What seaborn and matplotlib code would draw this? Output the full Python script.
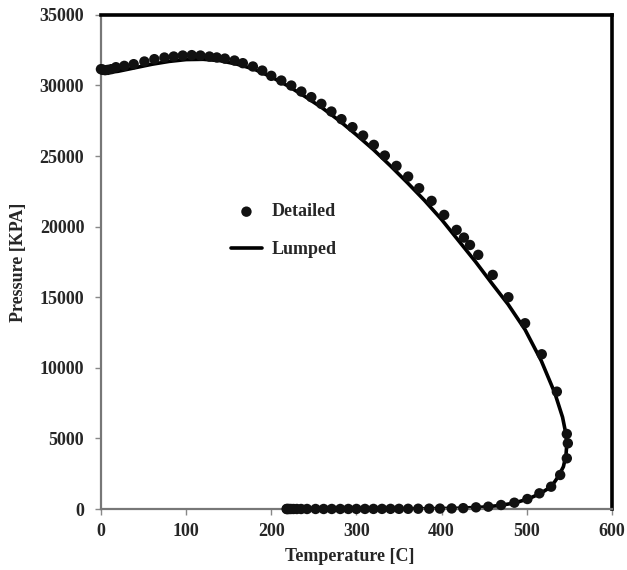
import matplotlib
matplotlib.use('Agg')
import matplotlib.pyplot as plt
import seaborn as sns
import pandas as pd

# Detailed model (dots)
detailed_T = [0, 1.5, 3, 5, 8, 12, 17.6, 27.4, 38.4, 51, 62.7, 74.5, 85.4, 96, 106.6,
              116.8, 127.4, 136, 145.5, 156.8, 166.6, 178.4, 189.4, 200, 211.8, 223.5,
              235.3, 247, 258.8, 270.6, 282.4, 295.3, 307.8, 320.4, 333.3, 347, 360.7,
              373.6, 388.2, 403, 417.6, 426.2, 433.3, 443, 460, 478.4, 498, 517.6, 535.3,
              547, 548.2, 547, 539.2, 528.6, 514.8, 500.7, 485.4, 469.8, 454.8, 440.4,
              425.4, 411.8, 398, 385.4, 372.5, 360.7, 350, 340, 330, 320, 310, 300,
              290.5, 281, 271, 261.5, 252, 242, 235, 230, 226, 223, 221, 219.5, 218.5, 218]
detailed_P = [31150, 31120, 31100, 31080, 31100, 31150, 31290, 31385, 31505, 31693, 31860,
              31975, 32047, 32117, 32145, 32117, 32047, 31980, 31900, 31763, 31575, 31340,
              31050, 30678, 30345, 29990, 29566, 29170, 28694, 28150, 27610, 27043, 26450,
              25790, 25032, 24300, 23545, 22720, 21822, 20830, 19767, 19222, 18700, 18000,
              16580, 15000, 13157, 10960, 8311, 5314, 4653, 3590, 2409, 1580, 1110, 708,
              446, 283, 165, 118, 60, 40, 30, 25, 20, 15, 12, 10, 8, 7, 6, 5, 4, 3, 3, 2,
              2, 2, 1, 1, 1, 1, 1, 1, 0, 0]

# Lumped model (line)
lumped_T = [0, 20, 40, 60, 80, 100, 120, 140, 160, 180, 200, 220, 240, 260, 280, 300, 320,
            340, 360, 380, 400, 420, 440, 460, 478, 498, 517, 533, 542, 546, 547, 546, 543,
            537, 529, 516, 501, 485, 468, 450, 420, 380, 330, 280, 218]
lumped_P = [30850, 31000, 31250, 31500, 31700, 31830, 31850, 31750, 31500, 31150, 30600,
            29950, 29200, 28400, 27500, 26500, 25450, 24300, 23100, 21850, 20500, 19000,
            17500, 15900, 14500, 12700, 10500, 8200, 6500, 5300, 4600, 3800, 3000, 2300,
            1600, 1100, 700, 420, 250, 140, 55, 20, 8, 3, 0]

x_ticks = [0, 100, 200, 300, 400, 500, 600]
y_ticks = [0, 5000, 10000, 15000, 20000, 25000, 30000, 35000]

sns.set_style('white')
plt.rcParams['font.family'] = ['Liberation Serif', 'DejaVu Serif']
plt.rcParams['font.weight'] = 'bold'

df_det = pd.DataFrame({'T': detailed_T, 'P': detailed_P})
df_lum = pd.DataFrame({'T': lumped_T, 'P': lumped_P})

fig = plt.figure(figsize=(6.27, 5.70), dpi=100)
ax = fig.add_axes([0.161, 0.107, 0.815, 0.867])

sns.lineplot(data=df_lum, x='T', y='P', sort=False, estimator=None, color='black',
             linewidth=2.6, ax=ax, label='Lumped', zorder=2)
sns.scatterplot(data=df_det, x='T', y='P', color='#111111', s=56, edgecolor='none',
                ax=ax, label='Detailed', zorder=3, clip_on=False)

ax.set_xlim(0, 600)
ax.set_ylim(0, 35000)
ax.set_xticks(x_ticks)
ax.set_yticks(y_ticks)
ax.tick_params(axis='both', direction='out', length=4, width=1, color='#888888',
               labelsize=13, left=True, bottom=True)
ax.tick_params(axis='y', pad=8)
ax.tick_params(axis='x', pad=6)
for lab in ax.get_xticklabels() + ax.get_yticklabels():
    lab.set_fontweight('bold')

ax.set_xlabel('Temperature [C]', fontsize=13, fontweight='bold')
ax.set_ylabel('Pressure [KPA]', fontsize=13, fontweight='bold')
ax.xaxis.set_label_coords(0.487, -0.078)
ax.yaxis.set_label_coords(-0.145, 0.5)

ax.spines['left'].set_color('#777777')
ax.spines['left'].set_linewidth(1.6)
ax.spines['bottom'].set_color('#777777')
ax.spines['bottom'].set_linewidth(1.6)
ax.spines['top'].set_color('black')
ax.spines['top'].set_linewidth(2.6)
ax.spines['right'].set_color('black')
ax.spines['right'].set_linewidth(2.6)

handles, labels = ax.get_legend_handles_labels()
order = [labels.index('Detailed'), labels.index('Lumped')]
leg = ax.legend([handles[i] for i in order], [labels[i] for i in order],
                loc='center left', bbox_to_anchor=(0.222, 0.563), frameon=False,
                labelspacing=1.15, handlelength=1.75, handletextpad=0.5,
                prop={'weight': 'bold', 'size': 13})

fig.savefig('out.png', dpi=100)
